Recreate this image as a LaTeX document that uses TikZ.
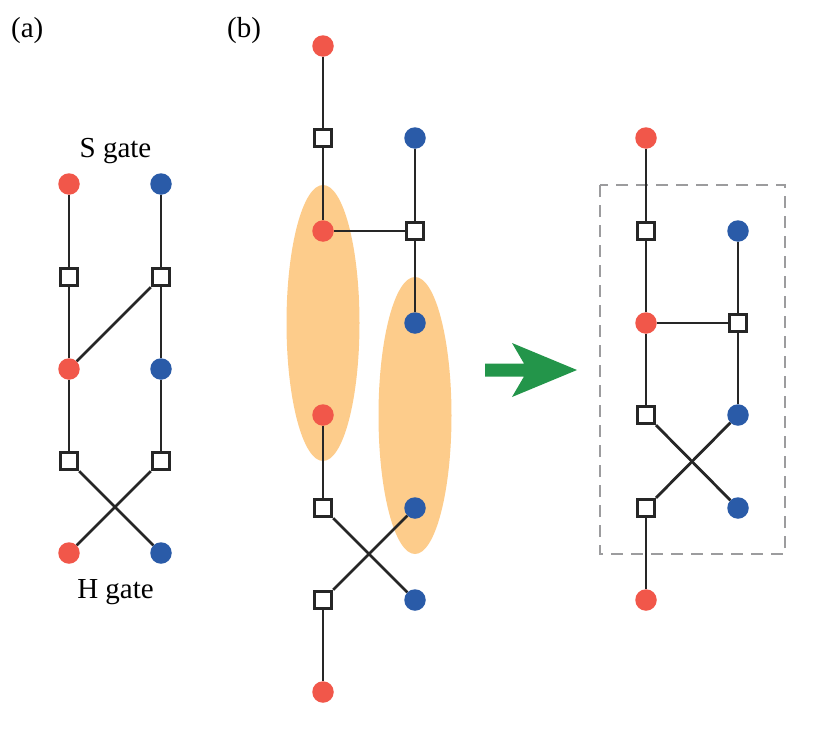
\documentclass[tikz,border=0pt]{standalone}
\usepackage{fontspec}
\setmainfont{Liberation Serif}
\definecolor{myred}{HTML}{F1574A}
\definecolor{myblue}{HTML}{2A5BA8}
\definecolor{myorange}{HTML}{FDCC8B}
\definecolor{mygreen}{HTML}{23954A}
\definecolor{mygray}{HTML}{9C9C9E}
\definecolor{myline}{HTML}{262626}
\tikzset{
  rdot/.style={circle,fill=myred,minimum size=21.5pt,inner sep=0pt},
  bdot/.style={circle,fill=myblue,minimum size=21.5pt,inner sep=0pt},
  sq/.style={rectangle,draw=myline,line width=2.8pt,fill=white,minimum size=17.5pt,inner sep=0pt},
  edge/.style={draw=myline,line width=2.8pt},
  lbl/.style={inner sep=0pt,font=\fontsize{29}{32}\selectfont}
}
\begin{document}
\begin{tikzpicture}[x=1pt,y=-1pt]
\useasboundingbox (0,0) rectangle (831,739);
% labels
\node[lbl,anchor=base west] (la) at (11,37) {(a)};
\node[lbl,anchor=base west] (lb) at (227,37) {(b)};
\node[lbl,anchor=base] (sg) at (115.5,157) {S gate};
\node[lbl,anchor=base] (hg) at (115.5,598) {H gate};
% panel (a)
\node[rdot] (a1) at (69,184) {};
\node[bdot] (a2) at (161,184) {};
\node[sq]   (a3) at (69,277) {};
\node[sq]   (a4) at (161,277) {};
\node[rdot] (a5) at (69,369) {};
\node[bdot] (a6) at (161,369) {};
\node[sq]   (a7) at (69,461) {};
\node[sq]   (a8) at (161,461) {};
\node[rdot] (a9) at (69,553) {};
\node[bdot] (a10) at (161,553) {};
\draw[edge] (a1) -- (a3);
\draw[edge] (a2) -- (a4);
\draw[edge] (a3) -- (a5);
\draw[edge] (a4) -- (a5);
\draw[edge] (a4) -- (a6);
\draw[edge] (a5) -- (a7);
\draw[edge] (a6) -- (a8);
\draw[edge] (a7) -- (a10);
\draw[edge] (a8) -- (a9);
% panel (b) ellipses
\fill[myorange] (323,323) ellipse [x radius=36.5pt, y radius=138pt];
\fill[myorange] (415,415.5) ellipse [x radius=36.5pt, y radius=138.5pt];
% panel (b) nodes
\node[rdot] (b1) at (323,46) {};
\node[sq]   (b2) at (323,138) {};
\node[bdot] (b3) at (415,138) {};
\node[rdot] (b4) at (323,231) {};
\node[sq]   (b5) at (415,231) {};
\node[bdot] (b6) at (415,323) {};
\node[rdot] (b7) at (323,415) {};
\node[sq]   (b8) at (323,508) {};
\node[bdot] (b9) at (415,508) {};
\node[sq]   (b10) at (323,600) {};
\node[bdot] (b11) at (415,600) {};
\node[rdot] (b12) at (323,692) {};
\draw[edge] (b1) -- (b2);
\draw[edge] (b2) -- (b4);
\draw[edge] (b4) -- (b5);
\draw[edge] (b3) -- (b5);
\draw[edge] (b5) -- (b6);
\draw[edge] (b7) -- (b8);
\draw[edge] (b8) -- (b11);
\draw[edge] (b9) -- (b10);
\draw[edge] (b10) -- (b12);
% arrow
\fill[mygreen] (485,363.5) -- (524,363.5) -- (512,343) -- (577,370) -- (512,397) -- (524,376.5) -- (485,376.5) -- cycle;
% dashed box
\draw[mygray,line width=2.6pt,dash pattern=on 12pt off 8pt] (600,185) rectangle (785,554);
% right panel
\node[rdot] (c1) at (646,138) {};
\node[sq]   (c2) at (646,231) {};
\node[bdot] (c3) at (738,231) {};
\node[rdot] (c4) at (646,323) {};
\node[sq]   (c5) at (738,323) {};
\node[sq]   (c6) at (646,415) {};
\node[bdot] (c7) at (738,415) {};
\node[sq]   (c8) at (646,508) {};
\node[bdot] (c9) at (738,508) {};
\node[rdot] (c10) at (646,600) {};
\draw[edge] (c1) -- (c2);
\draw[edge] (c2) -- (c4);
\draw[edge] (c4) -- (c5);
\draw[edge] (c3) -- (c5);
\draw[edge] (c5) -- (c7);
\draw[edge] (c4) -- (c6);
\draw[edge] (c6) -- (c9);
\draw[edge] (c7) -- (c8);
\draw[edge] (c8) -- (c10);
\end{tikzpicture}
\end{document}
